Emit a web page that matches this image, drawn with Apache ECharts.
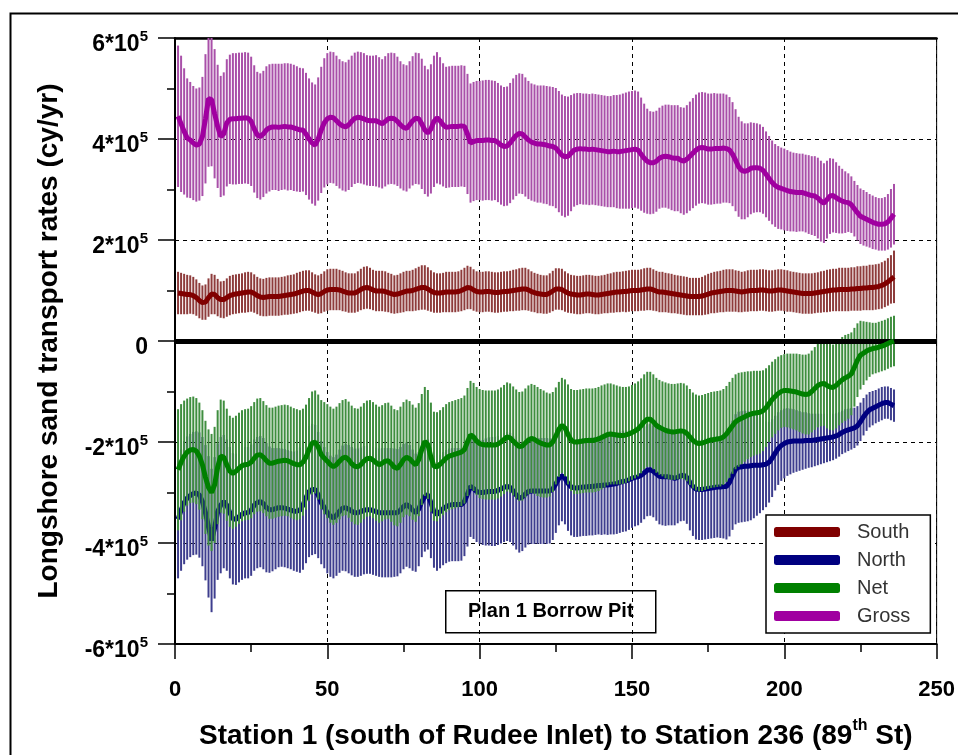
<!DOCTYPE html>
<html><head><meta charset="utf-8">
<script src="https://cdn.jsdelivr.net/npm/echarts@6/dist/echarts.min.js"></script>
<style>html,body{margin:0;padding:0;background:#fff}#c{width:958px;height:755px}</style>
</head><body><div id="c"></div>
<script>
// values in thousands of cy/yr, stations 1..236
const seriesNames = ['South', 'North', 'Net', 'Gross'];
const yTickValues = [-600, -400, -200, 0, 200, 400, 600];
const yTickMantissa = ['-6', '-4', '-2', '0', '2', '4', '6'];
const xTickValues = [0, 50, 100, 150, 200, 250];

const southMean = [
95,94,93,92,92,90,86,80,76,77,
86,93,92,86,82,82,86,90,92,93,
94,95,96,97,97,94,90,87,86,87,
88,88,88,88,89,90,91,92,93,95,
97,99,100,100,97,94,92,94,98,101,
102,102,102,101,99,97,95,95,95,98,
102,105,106,104,101,99,99,99,98,96,
94,92,93,95,97,99,99,100,102,104,
106,106,103,99,96,95,95,96,97,97,
97,97,98,100,103,106,105,101,98,97,
97,98,98,97,96,96,97,98,98,99,
100,101,102,103,103,101,98,96,94,93,
92,92,95,99,103,103,102,98,95,93,
92,91,91,92,93,93,92,91,91,92,
93,94,95,96,97,97,98,98,99,100,
100,100,101,102,103,103,101,99,97,97,
96,95,94,93,92,91,90,89,88,88,
88,88,89,91,93,95,96,97,98,99,
100,100,100,99,98,97,98,99,100,100,
100,101,101,100,99,99,100,101,101,100,
99,98,97,96,95,94,94,94,94,95,
96,97,98,99,100,101,101,102,102,102,
102,103,103,104,104,105,105,106,106,107,
108,110,113,117,122,127];
const southHalf = [
42,41,40,39,38,37,36,35,34,35,
38,40,39,37,36,37,38,39,39,39,
39,39,40,40,39,38,37,37,37,38,
38,38,38,38,38,38,39,39,39,40,
40,40,40,40,39,38,38,39,40,41,
41,41,41,40,40,39,39,39,39,40,
41,42,42,41,40,40,40,40,40,39,
39,38,38,39,40,40,40,41,42,43,
44,44,43,41,40,39,39,39,40,40,
40,40,40,41,42,43,42,41,40,40,
40,40,40,40,40,40,40,40,40,40,
41,41,42,42,42,41,40,39,39,38,
38,38,39,40,41,41,41,40,39,38,
38,38,38,38,38,38,38,38,38,38,
38,39,39,40,40,40,40,41,41,41,
41,41,41,42,42,42,41,40,40,40,
39,39,39,38,38,38,38,38,37,37,
37,37,38,39,40,40,41,41,41,42,
42,42,42,41,41,40,40,41,41,41,
41,41,41,41,41,41,41,41,41,41,
41,40,40,40,40,40,40,40,40,40,
40,41,41,42,42,42,42,43,43,43,
43,43,43,44,44,44,44,45,45,45,
45,46,46,47,48,52];

const northMean = [
-353,-335,-320,-311,-306,-302,-301,-305,-318,-340,
-368,-395,-370,-338,-325,-318,-325,-340,-352,-353,
-348,-343,-340,-340,-335,-325,-320,-318,-322,-330,
-334,-334,-332,-330,-330,-331,-333,-335,-337,-337,
-335,-325,-310,-298,-294,-294,-305,-320,-330,-340,
-347,-350,-345,-337,-331,-330,-333,-337,-340,-340,
-338,-335,-334,-334,-336,-338,-340,-340,-340,-340,
-340,-340,-340,-335,-328,-324,-328,-335,-340,-333,
-318,-308,-304,-320,-338,-343,-338,-332,-328,-325,
-324,-324,-324,-324,-318,-303,-288,-292,-298,-300,
-300,-299,-298,-298,-298,-296,-293,-290,-288,-290,
-297,-305,-311,-309,-303,-298,-297,-297,-297,-297,
-297,-297,-297,-293,-283,-272,-267,-272,-282,-289,
-291,-291,-290,-289,-289,-288,-288,-287,-286,-286,
-285,-285,-284,-283,-282,-280,-278,-277,-275,-272,
-270,-269,-266,-261,-256,-255,-258,-263,-268,-269,
-269,-269,-270,-272,-270,-267,-266,-270,-280,-288,
-293,-294,-294,-293,-292,-291,-290,-289,-289,-288,
-288,-280,-266,-254,-250,-249,-248,-248,-247,-246,
-246,-246,-245,-244,-240,-232,-222,-213,-207,-203,
-200,-199,-198,-198,-198,-198,-197,-197,-197,-196,
-195,-194,-193,-192,-191,-190,-188,-185,-181,-178,
-176,-174,-172,-168,-160,-150,-142,-136,-133,-130,
-127,-124,-122,-122,-125,-128];
const northHalf = [
117,120,122,122,122,122,122,124,128,134,
140,142,140,135,135,132,130,130,130,130,
130,130,130,130,130,130,130,130,130,128,
125,122,120,118,117,117,117,117,118,120,
124,128,130,130,130,128,125,122,120,120,
120,120,120,122,124,126,127,127,127,127,
127,127,127,127,127,127,127,128,128,128,
128,127,126,125,124,123,122,120,117,113,
110,109,109,110,111,112,112,112,112,112,
112,112,112,111,108,104,100,100,100,102,
104,106,107,108,108,108,108,108,108,108,
108,108,108,107,106,105,105,105,105,105,
105,105,104,101,97,93,90,91,94,96,
97,97,97,97,97,97,97,97,97,98,
98,99,99,100,100,100,100,100,99,98,
97,96,94,92,91,91,91,93,95,96,
97,96,95,93,91,90,90,92,95,98,
100,100,100,100,100,100,100,100,101,103,
105,107,108,109,110,110,110,109,108,105,
100,95,90,85,80,77,74,72,70,69,
67,65,63,61,59,57,56,54,53,52,
51,50,49,48,47,46,45,44,43,43,
42,41,40,39,38,37,36,35,34,33,
33,33,32,32,32,32];

const netMean = [
-255,-240,-228,-220,-216,-215,-218,-228,-245,-270,
-290,-300,-285,-250,-228,-230,-245,-258,-262,-258,
-252,-247,-245,-244,-240,-232,-226,-225,-230,-237,
-242,-242,-240,-238,-237,-236,-237,-240,-243,-245,
-245,-240,-230,-215,-202,-200,-210,-225,-232,-238,
-245,-249,-245,-238,-232,-230,-235,-243,-248,-249,
-245,-238,-233,-232,-236,-241,-245,-242,-238,-237,
-243,-250,-252,-245,-235,-230,-233,-240,-245,-235,
-215,-199,-205,-230,-248,-249,-244,-238,-232,-228,
-226,-224,-222,-220,-215,-200,-186,-190,-198,-203,
-205,-206,-206,-206,-206,-204,-200,-195,-190,-192,
-198,-204,-209,-208,-202,-196,-193,-195,-199,-202,
-204,-206,-206,-200,-188,-175,-167,-172,-185,-196,
-200,-200,-199,-198,-197,-197,-197,-196,-194,-191,
-188,-185,-184,-185,-186,-187,-187,-186,-184,-181,
-178,-174,-168,-160,-155,-155,-160,-167,-171,-174,
-177,-179,-180,-180,-179,-178,-179,-183,-190,-197,
-201,-203,-202,-200,-198,-196,-195,-194,-193,-190,
-184,-176,-168,-160,-156,-153,-150,-147,-145,-143,
-142,-141,-138,-132,-124,-116,-110,-104,-100,-98,
-98,-99,-100,-101,-103,-105,-106,-105,-100,-94,
-88,-85,-84,-88,-91,-92,-88,-82,-77,-73,
-70,-65,-52,-38,-28,-24,-20,-17,-15,-14,
-12,-10,-8,-5,-2,0];
const netHalf = [
120,115,110,106,105,105,105,106,108,112,
115,116,115,113,112,112,111,110,110,110,
110,110,110,110,111,111,112,112,111,110,
110,110,110,110,110,110,110,110,110,110,
108,106,104,102,102,102,104,108,111,113,
115,115,115,115,115,115,115,115,115,115,
115,115,115,115,115,115,115,115,115,115,
115,115,115,115,114,114,114,114,113,112,
110,108,108,108,108,108,107,107,107,107,
107,107,107,107,107,107,107,107,107,108,
108,108,108,108,108,108,108,108,108,108,
108,108,108,108,108,108,108,108,108,107,
106,104,102,99,96,94,94,96,99,101,
103,103,103,103,103,103,103,103,103,103,
102,101,100,99,98,97,96,95,94,94,
94,94,94,94,94,94,94,94,94,94,
95,95,95,95,95,95,95,95,95,95,
95,95,95,95,95,95,95,95,95,95,
95,95,95,94,93,91,89,87,85,84,
83,82,80,78,76,75,74,73,72,72,
73,74,75,76,77,78,79,80,81,82,
83,84,84,85,85,85,85,85,85,85,
84,82,78,73,68,63,58,54,51,50,
50,50,50,50,50,50];

const grossMean = [
445,430,415,402,398,392,388,390,405,440,
480,478,450,425,405,410,432,439,440,440,
441,441,442,441,435,420,408,405,410,418,
422,424,424,423,424,425,424,424,422,420,
418,418,410,400,392,388,400,418,432,440,
443,442,436,430,426,424,428,435,441,443,
442,440,437,436,436,436,433,430,435,440,
441,440,435,428,423,421,428,436,441,440,
430,418,412,420,435,442,436,428,423,424,
425,425,425,426,425,410,392,395,397,397,
397,398,398,397,397,393,388,385,386,392,
400,407,411,410,404,398,394,392,390,390,
389,388,386,385,382,375,368,365,366,372,
378,380,381,380,380,379,380,379,378,377,
376,375,375,376,375,375,376,377,378,379,
380,378,370,362,356,353,353,356,362,365,
366,365,363,362,362,358,356,360,366,372,
378,382,383,382,380,380,381,381,381,382,
381,378,370,358,345,338,336,338,342,343,
343,342,338,330,322,314,308,304,302,300,
298,296,295,294,294,294,292,290,288,287,
283,277,273,280,287,288,284,280,277,275,
274,270,262,254,247,244,241,238,235,233,
231,231,232,236,243,251];
const grossHalf = [
140,135,125,118,115,113,112,112,118,128,
135,132,128,122,120,122,126,128,130,130,
130,130,130,130,128,126,125,125,125,126,
126,125,125,126,125,125,126,125,125,124,
123,122,121,120,120,120,122,125,128,130,
130,130,129,128,128,128,129,130,130,130,
130,130,129,129,129,130,129,128,129,130,
130,130,128,126,125,125,126,128,130,130,
129,127,126,128,130,130,126,122,120,120,
120,120,120,120,120,119,118,118,118,118,
119,119,119,119,118,118,118,118,118,119,
120,120,119,119,118,117,116,116,116,116,
117,117,118,118,119,120,120,120,118,115,
112,111,110,110,110,110,110,110,110,110,
110,110,110,111,112,113,114,115,116,116,
116,116,112,108,104,102,101,100,100,101,
102,103,104,105,105,105,106,107,108,109,
110,110,110,110,110,110,110,109,109,108,
107,105,103,101,99,97,95,93,91,89,
88,87,86,85,84,83,82,82,81,81,
80,79,78,78,77,77,77,78,78,79,
80,80,79,77,75,73,70,67,64,61,
58,56,55,55,55,55,54,53,53,52,
52,52,53,55,58,60];

const FONT = '"Liberation Sans", Arial, sans-serif';
const lineColors = {South:'#800000', North:'#000080', Net:'#008000', Gross:'#a000a0'};
const barColors  = {South:'#8e3c3c', North:'#3e3e8e', Net:'#3f8e3f', Gross:'#a950a9'};
const dataMap = {
  South: [southMean, southHalf], North: [northMean, northHalf],
  Net: [netMean, netHalf], Gross: [grossMean, grossHalf]
};
const drawOrder = ['North', 'Net', 'South', 'Gross'];

function makeRender(color) {
  return function (params, api) {
    const x = api.value(0);
    const top = api.coord([x, api.value(2)]);
    const bot = api.coord([x, api.value(1)]);
    const w = 2;
    return {
      type: 'rect',
      shape: {x: top[0] - w / 2, y: top[1], width: w, height: bot[1] - top[1]},
      style: {fill: color}
    };
  };
}

const series = [];
let z = 2;
drawOrder.forEach(name => {
  const [m, h] = dataMap[name];
  series.push({
    type: 'custom', name: name + ' range', z: z++, clip: true, silent: true, animation: false,
    renderItem: makeRender(barColors[name]),
    encode: {x: 0, y: [1, 2]},
    data: m.map((v, i) => [i + 1, v - h[i], v + h[i]])
  });
  series.push({
    type: 'line', name: name, z: z++, showSymbol: false, silent: true, animation: false,
    clip: true,
    lineStyle: {color: lineColors[name], width: 5},
    itemStyle: {color: lineColors[name]},
    data: m.map((v, i) => [i + 1, v])
  });
});
series[series.length - 1].markLine = {
  silent: true, symbol: ['none', 'none'], animation: false,
  label: {show: false},
  lineStyle: {color: '#000', width: 5, type: 'solid'},
  emphasis: {disabled: true},
  data: [{yAxis: 0}]
};

const chart = echarts.init(document.getElementById('c'), null, {renderer: 'canvas'});
chart.setOption({
  animation: false,
  backgroundColor: '#fff',
  grid: {left: 175, right: 21, top: 38, bottom: 105, show: true, borderColor: '#000', borderWidth: 1},
  xAxis: [{
    type: 'value', min: xTickValues[0], max: xTickValues[xTickValues.length - 1], interval: 50,
    position: 'bottom',
    axisLine: {show: true, onZero: false, lineStyle: {color: '#000', width: 2}},
    axisTick: {show: true, length: 15, lineStyle: {color: '#000', width: 1.5}},
    minorTick: {show: true, splitNumber: 2, length: 8, lineStyle: {color: '#000', width: 1.5}},
    splitLine: {show: true, lineStyle: {color: '#000', width: 1, type: [4, 4]}},
    axisLabel: {fontSize: 22, fontWeight: 'bold', color: '#000', margin: 35, fontFamily: FONT},
    name: '{a|Station 1 (south of Rudee Inlet) to Station 236 (89}{s|th}{a| St)}',
    nameLocation: 'middle', nameGap: 74,
    nameTextStyle: {
      color: '#000', fontFamily: FONT,
      rich: {
        a: {fontSize: 28, fontWeight: 'bold', color: '#000', fontFamily: FONT, lineHeight: 32, verticalAlign: 'bottom'},
        s: {fontSize: 16, fontWeight: 'bold', color: '#000', fontFamily: FONT, lineHeight: 18, verticalAlign: 'top'}
      }
    }
  }, {
    type: 'value', min: 0, max: 250, position: 'top',
    axisLine: {show: true, onZero: false, lineStyle: {color: '#000', width: 2.5}},
    axisTick: {show: false}, axisLabel: {show: false}, splitLine: {show: false}
  }],
  yAxis: {
    type: 'value', min: yTickValues[0], max: yTickValues[yTickValues.length - 1], interval: 200,
    axisLine: {show: true, onZero: false, lineStyle: {color: '#000', width: 2}},
    axisTick: {show: true, length: 17, lineStyle: {color: '#000', width: 1.5}},
    minorTick: {show: true, splitNumber: 2, length: 8, lineStyle: {color: '#000', width: 1.5}},
    splitLine: {show: true, lineStyle: {color: '#000', width: 1, type: [4, 4]}},
    axisLabel: {
      margin: 27, color: '#000', padding: [10, 0, 0, 0],
      formatter: function (v) {
        const idx = yTickValues.indexOf(v);
        const m = idx >= 0 ? yTickMantissa[idx] : String(v);
        return m === '0' ? '{n|0}' : '{n|' + m + '*10}{s|5}';
      },
      rich: {
        n: {fontSize: 23, fontWeight: 'bold', color: '#000', fontFamily: FONT, lineHeight: 27, verticalAlign: 'bottom'},
        s: {fontSize: 15, fontWeight: 'bold', color: '#000', fontFamily: FONT, lineHeight: 16, verticalAlign: 'top'}
      }
    },
    name: 'Longshore sand transport rates (cy/yr)',
    nameLocation: 'middle', nameGap: 112,
    nameTextStyle: {fontSize: 28, fontWeight: 'bold', color: '#000', fontFamily: FONT}
  },
  legend: {
    data: seriesNames,
    orient: 'vertical', left: 766, top: 515,
    icon: 'roundRect', itemWidth: 66, itemHeight: 10, itemGap: 6,
    padding: [6, 20, 6, 8],
    backgroundColor: '#fff', borderColor: '#000', borderWidth: 1.5,
    selectedMode: false,
    textStyle: {fontSize: 20, color: '#333', fontFamily: FONT, lineHeight: 22, padding: [0, 0, 0, 12]},
    z: 50
  },
  graphic: [
    {type: 'rect', left: 8, top: 11, z: 100, silent: true,
     shape: {width: 1000, height: 800}, style: {fill: 'none', stroke: '#000', lineWidth: 2}},
    {type: 'group', left: 445, top: 590, z: 100, children: [
      {type: 'rect', shape: {x: 0, y: 0, width: 210, height: 42}, style: {fill: '#fff', stroke: '#000', lineWidth: 1.5}},
      {type: 'text', x: 105, y: 21, style: {text: 'Plan 1 Borrow Pit', font: 'bold 20px ' + FONT, fill: '#000', align: 'center', verticalAlign: 'middle'}}
    ]}
  ],
  series: series
});
</script>
</body></html>
